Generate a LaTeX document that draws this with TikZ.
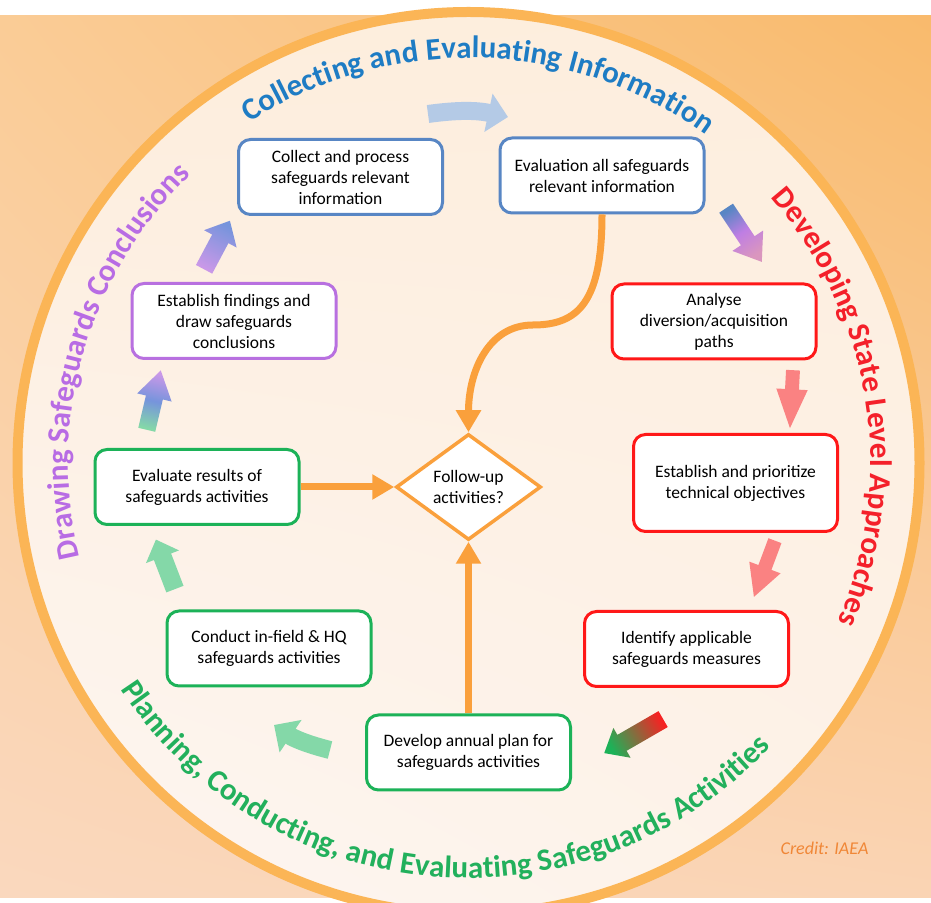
\documentclass[tikz,border=0pt]{standalone}
\usepackage{fontspec}
\setmainfont{Carlito}
\usetikzlibrary{arrows.meta, shapes.geometric, shapes.arrows, decorations.text, shadings}

\definecolor{bgtl}{RGB}{250,204,150}
\definecolor{bgtr}{RGB}{249,186,108}
\definecolor{bgbl}{RGB}{250,216,190}
\definecolor{bgbr}{RGB}{250,212,180}
\definecolor{discul}{RGB}{253,237,220}
\definecolor{discur}{RGB}{253,238,222}
\definecolor{discll}{RGB}{253,246,242}
\definecolor{disclr}{RGB}{253,242,232}
\definecolor{ringorange}{RGB}{251,181,86}
\definecolor{flowline}{RGB}{250,160,60}
\definecolor{boxblue}{RGB}{88,134,196}
\definecolor{boxpurple}{RGB}{184,112,224}
\definecolor{boxgreen}{RGB}{28,178,88}
\definecolor{boxred}{RGB}{255,24,24}
\definecolor{ttlblue}{RGB}{30,124,196}
\definecolor{ttlred}{RGB}{244,32,42}
\definecolor{ttlpurple}{RGB}{184,108,228}
\definecolor{ttlgreen}{RGB}{34,176,92}
\definecolor{softblue}{RGB}{180,202,230}
\definecolor{salmon}{RGB}{250,130,130}
\definecolor{mint}{RGB}{132,216,168}
\definecolor{lilac}{RGB}{202,152,232}
\definecolor{pinkish}{RGB}{218,150,190}
\definecolor{cornflower}{RGB}{118,148,220}
\definecolor{tailred}{RGB}{245,35,35}
\definecolor{creditorange}{RGB}{240,135,55}

\newcommand\boxfont{\fontsize{17.5}{21}\selectfont}
\newcommand\ttlfont{\fontsize{31}{36}\selectfont\bfseries}

\begin{document}
\begin{tikzpicture}[
    x=1pt, y=1pt,
    box/.style={draw, line width=3pt, rounded corners=12pt, fill=white, align=center, font=\boxfont, minimum width=204pt, minimum height=75pt, inner sep=2pt},
    decision/.style={diamond, draw=flowline, line width=3.5pt, fill=white, align=center, font=\boxfont, aspect=1.36, inner sep=0pt, minimum width=145pt, minimum height=106pt},
    flow/.style={draw=flowline, line width=7pt, -{Triangle[length=22pt, width=24pt]}},
    % length, head width, half shaft, tip angle
    bigarrow/.style n args={4}{single arrow, draw=none, inner xsep=0pt, inner ysep=#3, anchor=tail, minimum height=#1, minimum width=#2, single arrow head extend={#2/2-#3}, single arrow tip angle=#4},
    % shading angle, tail, middle, tip
    fade/.style n args={4}{bottom color=#2, top color=#4, middle color=#3, shading angle=#1},
    bentarrow/.style={line width=18pt, -{Triangle[length=20pt, width=38pt]}},
    title/.style={decorate, decoration={text along path, text align=center, #1}}
]
% background, disc and ring
\useasboundingbox (0,0) rectangle (931,902);
\fill[white] (0,0) rectangle (931,902);
\shade[upper left=bgtl, upper right=bgtr, lower left=bgbl, lower right=bgbr] (0,5) rectangle (931,886);
\coordinate (hub) at (468.5,439);
\shade[upper left=discul, upper right=discur, lower left=discll, lower right=disclr] (hub) circle[radius=451];
\draw[ringorange, line width=10pt] (hub) circle[radius=451];

% stage titles round the ring
\path[title={text={|\ttlfont\color{ttlblue}|Collecting and Evaluating Information}}]
    ([shift={(158.4:405)}]hub) arc[start angle=158.4, end angle=18.4, radius=405];
\path[title={text={|\ttlfont\color{ttlred}|Developing State Level Approaches}}]
    ([shift={(79:402)}]hub) arc[start angle=79, end angle=-61, radius=402];
\path[title={text={|\ttlfont\color{ttlpurple}|Drawing Safeguards Conclusions}}]
    ([shift={(233.8:400)}]hub) arc[start angle=233.8, end angle=93.8, radius=400];
\path[title={text={|\ttlfont\color{ttlgreen}|Planning, Conducting, and Evaluating Safeguards Activities}}]
    ([shift={(179.9:415)}]hub) arc[start angle=179.9, end angle=349.9, radius=415];

% steps
\node[box, draw=boxblue] (collect) at (340.5,725) {Collect and process\\safeguards relevant\\information};
\node[box, draw=boxblue] (evalinfo) at (602,726.5) {Evaluation all safeguards\\relevant information};
\node[box, draw=boxpurple] (findings) at (234,581) {Establish findings and\\draw safeguards\\conclusions};
\node[box, draw=boxred] (analyse) at (714,580.5) {Analyse\\diversion/acquisition\\paths};
\node[box, draw=boxred, minimum height=97pt] (prioritize) at (735.5,419) {Establish and prioritize\\technical objectives};
\node[box, draw=boxgreen] (evalres) at (197,415) {Evaluate results of\\safeguards activities};
\node[box, draw=boxred] (identify) at (686.5,253) {Identify applicable\\safeguards measures};
\node[box, draw=boxgreen] (conduct) at (269,253.5) {Conduct in-field \& HQ\\safeguards activities};
\node[box, draw=boxgreen] (develop) at (468.5,149.5) {Develop annual plan for\\safeguards activities};
\node[decision] (decide) at (468.5,415) {Follow-up\\activities?};

% feeds into the decision
\coordinate (bend) at (533,577);
\draw[flow] (evalres) -- (decide);
\draw[flow] (develop) -- (decide);
\draw[flow] (evalinfo.south) .. controls +(0,-88) and +(45,0) .. (bend)
    .. controls +(-45,0) and +(0,60) .. (decide.north);

% block arrows of the cycle
\coordinate (topA) at (428,788);
\coordinate (topB) at (508,785);
\draw[bentarrow, softblue] (topA) to[bend left=10] (topB);
\node[bigarrow={64.5pt}{36.5pt}{8pt}{72}, rotate=-56.4, fade={-146.4}{boxblue}{boxpurple!90}{pinkish}] (toanalyse) at (726,694) {};
\node[bigarrow={58pt}{31pt}{6.75pt}{44}, rotate=-93, fill=salmon] (toprioritize) at (793,532) {};
\node[bigarrow={60pt}{33pt}{6.75pt}{56}, rotate=-110.5, fill=salmon] (toidentify) at (775,361.5) {};
\node[bigarrow={68pt}{34pt}{9pt}{80}, rotate=-150, fade={-240}{tailred}{tailred!50!boxgreen}{boxgreen}] (todevelop) at (663.3,183) {};
\coordinate (lowA) at (330,152);
\coordinate (lowB) at (274,177);
\draw[bentarrow, mint] (lowA) to[bend left=10] (lowB);
\node[bigarrow={53pt}{35pt}{9pt}{88}, rotate=111, fill=mint] (toevalres) at (175,312.7) {};
\node[bigarrow={61pt}{35pt}{8.5pt}{65}, rotate=76.7, fade={-13.3}{mint}{cornflower}{lilac}] (tofindings) at (146.7,472) {};
\node[bigarrow={55pt}{36.5pt}{9pt}{84}, rotate=62, fade={-28}{lilac}{lilac!50!cornflower}{cornflower}] (tocollect) at (204,632.5) {};

\node[font=\fontsize{18}{20}\selectfont\itshape, text=creditorange] (credit) at (824.5,54) {Credit: IAEA};
\end{tikzpicture}
\end{document}
